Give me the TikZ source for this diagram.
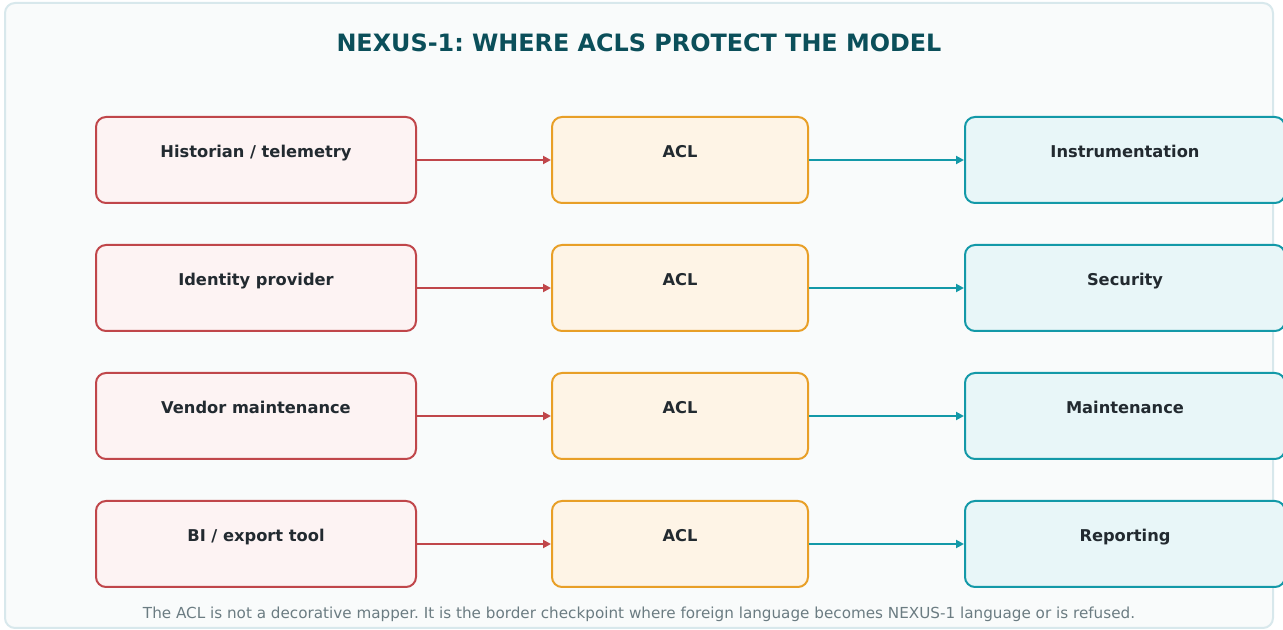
\documentclass[tikz,border=0pt]{standalone}
\usepackage{fontspec}
\setmainfont{DejaVu Sans}
\usetikzlibrary{arrows.meta}
\frenchspacing

\definecolor{panelbg}{HTML}{F9FBFB}
\definecolor{panelln}{HTML}{D8E8EC}
\definecolor{titlecol}{HTML}{0B4F5A}
\definecolor{txtcol}{HTML}{222A30}
\definecolor{notecol}{HTML}{6B7C82}
\definecolor{srcln}{HTML}{C0464A}
\definecolor{srcbg}{HTML}{FDF3F3}
\definecolor{aclln}{HTML}{E89F27}
\definecolor{aclbg}{HTML}{FEF4E6}
\definecolor{ctxln}{HTML}{1399A8}
\definecolor{ctxbg}{HTML}{E8F6F8}

% 1 unit = 0.75pt throughout
\tikzset{
  box/.style={rounded corners=7.5pt, line width=1.5pt, minimum height=64.5pt,
              inner sep=0pt},
  boxtxt/.style={font=\bfseries\fontsize{12.2pt}{14pt}\selectfont,
                 text=txtcol, text height=0.75em, text depth=0.25em,
                 yshift=4.5pt},
  srcbox/.style={box, draw=srcln, fill=srcbg, minimum width=240pt},
  aclbox/.style={box, draw=aclln, fill=aclbg, minimum width=192pt},
  ctxbox/.style={box, draw=ctxln, fill=ctxbg, minimum width=240pt},
  link/.style={line width=1.5pt, -{Triangle[length=6pt,width=6pt]}},
}

\begin{document}
\begin{tikzpicture}[x=0.75pt, y=-0.75pt]
\useasboundingbox (0,0) rectangle (1283,630);
% background panel
\draw[panelln, fill=panelbg, line width=1.5pt, rounded corners=7.5pt]
  (5,3) rectangle (1273,628);
\node[text=titlecol, font=\bfseries\fontsize{17.9pt}{21pt}\selectfont]
  (title) at (639,43) {NEXUS-1: WHERE ACLS PROTECT THE MODEL};

% one row per foreign system: source -> ACL -> bounded context
\foreach \i/\src/\ctx/\y in {1/Historian \slash\ telemetry/Instrumentation/160,
                             2/Identity provider/Security/288,
                             3/Vendor maintenance/Maintenance/416,
                             4/BI \slash\ export tool/Reporting/544}{
  \node[srcbox, label={[boxtxt]center:\src}] (src\i) at (256,\y) {};
  \node[aclbox, label={[boxtxt]center:ACL}] (acl\i) at (680,\y) {};
  \node[ctxbox, label={[boxtxt]center:\ctx}] (ctx\i) at (1125,\y) {};
  \draw[link, srcln] (src\i) -- (acl\i);
  \draw[link, ctxln] (acl\i) -- (ctx\i);
}

\node[text=notecol, font=\fontsize{11.4pt}{13pt}\selectfont] (note) at (639,614)
  {The ACL is not a decorative mapper. It is the border checkpoint where foreign language becomes NEXUS-1 language or is refused.};
\end{tikzpicture}
\end{document}
